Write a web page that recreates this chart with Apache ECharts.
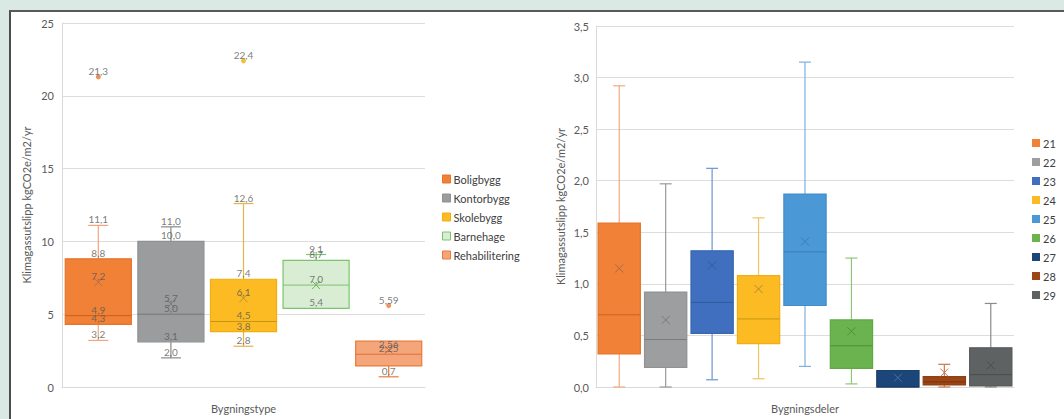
<!DOCTYPE html>
<html>
<head>
<meta charset="utf-8">
<script src="https://cdn.jsdelivr.net/npm/echarts@6/dist/echarts.min.js"></script>
<style>
  html,body{margin:0;padding:0;background:#dbe9e5;}
  #panel{position:absolute;left:9px;top:10px;width:1055px;height:409px;background:#ffffff;border-left:2px solid #4d4d4d;border-top:2px solid #5a5a5a;box-sizing:border-box;}
  #chart{position:absolute;left:0;top:0;width:1064px;height:419px;}
</style>
</head>
<body>
<div id="panel"></div>
<div id="chart"></div>
<script>
// ---------- Left chart data (Bygningstype) ----------
const leftCats = ['Boligbygg', 'Kontorbygg', 'Skolebygg', 'Barnehage', 'Rehabilitering'];
const leftMin    = [3.2, 2.0, 2.8, 5.4, 0.7];
const leftQ1     = [4.3, 3.1, 3.8, 5.4, 1.45];
const leftMedian = [4.9, 5.0, 4.5, 7.0, 2.25];
const leftQ3     = [8.8, 10.0, 7.4, 8.7, 3.15];
const leftMax    = [11.1, 11.0, 12.6, 9.1, 3.15];
const leftMean   = [7.2, 5.7, 6.1, 7.0, 2.56];
const leftOutliers = [[21.3], [], [22.4], [], [5.59]];
const leftLabels = [
  [11.1, 8.8, 7.2, 4.9, 4.3, 3.2, 21.3],
  [11.0, 10.0, 5.7, 5.0, 3.1, 2.0],
  [12.6, 7.4, 6.1, 4.5, 3.8, 2.8, 22.4],
  [9.1, 8.7, 7.0, 5.4],
  [2.56, 2.25, 0.7, 5.59]
];
const leftTicks = [0, 5, 10, 15, 20, 25];

// ---------- Right chart data (Bygningsdeler) ----------
const rightCats   = ['21', '22', '23', '24', '25', '26', '27', '28', '29'];
const rightMin    = [0.0, 0.0, 0.07, 0.08, 0.2, 0.03, 0.0, 0.0, 0.0];
const rightQ1     = [0.32, 0.19, 0.52, 0.42, 0.79, 0.18, 0.0, 0.02, 0.01];
const rightMedian = [0.7, 0.46, 0.82, 0.66, 1.31, 0.4, 0.0, 0.05, 0.12];
const rightQ3     = [1.59, 0.92, 1.32, 1.08, 1.87, 0.65, 0.16, 0.1, 0.38];
const rightMax    = [2.92, 1.97, 2.12, 1.64, 3.15, 1.25, 0.16, 0.22, 0.81];
const rightMean   = [1.15, 0.65, 1.18, 0.95, 1.41, 0.54, 0.09, 0.14, 0.21];
const rightTicks = ['0,0', '0,5', '1,0', '1,5', '2,0', '2,5', '3,0', '3,5'];

// ---------- Styles ----------
const leftStyle = [
  {fill:'#F08136', border:'#E8732A', whisker:'#F2A47C', median:'#C9601E', mean:'#B07050'},
  {fill:'#9A9C9D', border:'#8E9091', whisker:'#8A8A8A', median:'#777777', mean:'#7A7A7A'},
  {fill:'#FCBB23', border:'#F0AE10', whisker:'#E7B448', median:'#C99410', mean:'#B8913A'},
  {fill:'#D9EDD4', border:'#7CC46B', whisker:'#7CC46B', median:'#7CC46B', mean:'#6DB85B'},
  {fill:'#F4A57A', border:'#EC7A3A', whisker:'#EC7A3A', median:'#E0733A', mean:'#D07040'}
];
const rightStyle = [
  {fill:'#F08136', border:'#E8732A', whisker:'#F2A982', median:'#C9601E', mean:'#A66A4A'},
  {fill:'#9C9E9F', border:'#909293', whisker:'#9A9A9A', median:'#7A7A7A', mean:'#7A7A7A'},
  {fill:'#3F6FBE', border:'#3866B3', whisker:'#7094D2', median:'#2F5A9E', mean:'#2F5A9E'},
  {fill:'#FCBB23', border:'#F0AE10', whisker:'#EEC563', median:'#C99410', mean:'#B08A35'},
  {fill:'#4B98D6', border:'#428ECB', whisker:'#7DB1E0', median:'#3A7DB5', mean:'#3A7DB5'},
  {fill:'#6AB34F', border:'#60A846', whisker:'#8DC57A', median:'#4E8F3A', mean:'#4E8F3A'},
  {fill:'#1C4679', border:'#1A406E', whisker:'#5C7CA6', median:'#163860', mean:'#4A6E9A'},
  {fill:'#9C4516', border:'#903F14', whisker:'#C47A4E', median:'#7A3510', mean:'#C47A4E'},
  {fill:'#5E6263', border:'#565A5B', whisker:'#8A8A8A', median:'#4A4D4E', mean:'#4A4D4E'}
];

const FONT = 'Lato, "Open Sans", sans-serif';
const TXT = '#595959';

function fmtLabel(v) {
  const s = String(v);
  const dec = (s.split('.')[1] || '').length;
  return v.toFixed(Math.max(1, dec)).replace('.', ',');
}

function makeRender(style, capW) {
  return function (params, api) {
    const x = api.value(0);
    const mn = api.value(1), q1 = api.value(2), md = api.value(3), q3 = api.value(4), mx = api.value(5), mean = api.value(6);
    const band = api.size([1, 0])[0];
    const bw = band * 0.91;
    const cx = api.coord([x, 0])[0];
    const Y = v => api.coord([x, v])[1];
    const ch = [];
    const ls = {stroke: style.whisker, lineWidth: 1.2};
    if (mx > q3) {
      ch.push({type:'line', shape:{x1:cx, y1:Y(q3), x2:cx, y2:Y(mx)}, style:ls});
      ch.push({type:'line', shape:{x1:cx - capW/2, y1:Y(mx), x2:cx + capW/2, y2:Y(mx)}, style:ls});
    }
    if (mn < q1) {
      ch.push({type:'line', shape:{x1:cx, y1:Y(q1), x2:cx, y2:Y(mn)}, style:ls});
      ch.push({type:'line', shape:{x1:cx - capW/2, y1:Y(mn), x2:cx + capW/2, y2:Y(mn)}, style:ls});
    }
    ch.push({type:'rect', shape:{x:cx - bw/2, y:Y(q3), width:bw, height:Y(q1) - Y(q3)},
      style:{fill:style.fill, stroke:style.border, lineWidth:1.2}});
    ch.push({type:'line', shape:{x1:cx - bw/2, y1:Y(md), x2:cx + bw/2, y2:Y(md)},
      style:{stroke:style.median, lineWidth:1}});
    const my = Y(mean), d = 4;
    ch.push({type:'line', shape:{x1:cx - d, y1:my - d, x2:cx + d, y2:my + d}, style:{stroke:style.mean, lineWidth:1}});
    ch.push({type:'line', shape:{x1:cx - d, y1:my + d, x2:cx + d, y2:my - d}, style:{stroke:style.mean, lineWidth:1}});
    return {type:'group', children:ch};
  };
}

const series = [];
leftCats.forEach((name, i) => {
  series.push({
    name: name, type: 'custom', xAxisIndex: 0, yAxisIndex: 0,
    itemStyle: {color: leftStyle[i].fill},
    renderItem: makeRender(leftStyle[i], 20),
    encode: {x: 0, y: [1, 2, 3, 4, 5]},
    data: [[i, leftMin[i], leftQ1[i], leftMedian[i], leftQ3[i], leftMax[i], leftMean[i]]],
    z: 2
  });
  if (leftOutliers[i].length) {
    series.push({
      name: name + ' outlier', type: 'scatter', xAxisIndex: 0, yAxisIndex: 0,
      symbolSize: 5, itemStyle: {color: leftStyle[i].border},
      data: leftOutliers[i].map(v => [i, v]), z: 3, silent: true
    });
  }
});
const labelData = [];
leftLabels.forEach((arr, i) => arr.forEach(v => labelData.push([i, v])));
series.push({
  name: 'labels', type: 'scatter', xAxisIndex: 0, yAxisIndex: 0,
  symbolSize: 0, silent: true, z: 5,
  itemStyle: {color: TXT},
  label: {show: true, position: 'top', distance: 1, color: TXT, fontSize: 10, fontFamily: FONT,
    textBorderWidth: 0, formatter: p => fmtLabel(p.value[1])},
  data: labelData
});
rightCats.forEach((name, i) => {
  series.push({
    name: name, type: 'custom', xAxisIndex: 1, yAxisIndex: 1,
    itemStyle: {color: rightStyle[i].fill},
    renderItem: makeRender(rightStyle[i], 12),
    encode: {x: 0, y: [1, 2, 3, 4, 5]},
    data: [[i, rightMin[i], rightQ1[i], rightMedian[i], rightQ3[i], rightMax[i], rightMean[i]]],
    z: 2
  });
});

const gridLine = {show: true, lineStyle: {color: '#DDDDDD', width: 1}};
const axisLine = {show: true, lineStyle: {color: '#D9D9D9', width: 1}};

const option = {
  animation: false,
  textStyle: {fontFamily: FONT},
  grid: [
    {left: 62, right: 639, top: 23, bottom: 31},
    {left: 596, right: 50, top: 26, bottom: 31}
  ],
  xAxis: [
    {type: 'category', gridIndex: 0, data: leftCats, axisLabel: {show: false}, axisTick: {show: false},
     axisLine: axisLine, name: 'Bygningstype', nameLocation: 'middle', nameGap: 16,
     nameTextStyle: {color: TXT, fontSize: 11, fontFamily: FONT}},
    {type: 'category', gridIndex: 1, data: rightCats, axisLabel: {show: false}, axisTick: {show: false},
     axisLine: axisLine, name: 'Bygningsdeler', nameLocation: 'middle', nameGap: 16,
     nameTextStyle: {color: TXT, fontSize: 11, fontFamily: FONT}}
  ],
  yAxis: [
    {type: 'value', gridIndex: 0, min: leftTicks[0], max: leftTicks[leftTicks.length - 1], interval: 5,
     splitLine: gridLine, axisLine: axisLine, axisTick: {show: false},
     axisLabel: {color: TXT, fontSize: 11, margin: 8, fontFamily: FONT},
     name: 'Klimagassutslipp kgCO2e/m2/yr', nameLocation: 'middle', nameGap: 30, nameRotate: 90,
     nameTextStyle: {color: TXT, fontSize: 11, fontFamily: FONT}},
    {type: 'value', gridIndex: 1, min: 0, max: 3.5, interval: 0.5,
     splitLine: gridLine, axisLine: axisLine, axisTick: {show: false},
     axisLabel: {color: TXT, fontSize: 11, margin: 7, fontFamily: FONT,
       formatter: v => rightTicks[Math.round(v / 0.5)]},
     name: 'Klimagassutslipp kgCO2e/m2/yr', nameLocation: 'middle', nameGap: 30, nameRotate: 90,
     nameTextStyle: {color: TXT, fontSize: 11, fontFamily: FONT}}
  ],
  legend: [
    {orient: 'vertical', left: 437, top: 167, itemWidth: 8, itemHeight: 8, itemGap: 5,
     icon: 'rect', selectedMode: false,
     textStyle: {color: '#404040', fontSize: 11, fontFamily: FONT, lineHeight: 14, padding: [0, 0, 0, -2]},
     data: leftCats.map((n, i) => ({name: n, itemStyle: {color: leftStyle[i].fill, borderColor: leftStyle[i].border, borderWidth: 1}}))},
    {orient: 'vertical', left: 1027, top: 131, itemWidth: 8, itemHeight: 8, itemGap: 5,
     icon: 'rect', selectedMode: false,
     textStyle: {color: '#404040', fontSize: 11, fontFamily: FONT, lineHeight: 14, padding: [0, 0, 0, -2]},
     data: rightCats.map((n, i) => ({name: n, itemStyle: {color: rightStyle[i].fill}}))}
  ],
  series: series
};

const chart = echarts.init(document.getElementById('chart'), null, {renderer: 'svg'});
chart.setOption(option);
</script>
</body>
</html>
